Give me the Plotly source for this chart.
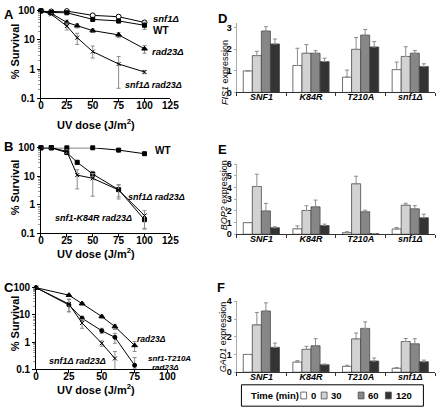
import plotly.graph_objects as go

W, H = 447, 418

# ---------------- data: survival panels ----------------
A_x_std = [0, 10, 25, 50, 75, 100]
A_snf1 = [100, 95, 98, 70, 63, 40]
A_snf1_err = [0, 0, 0, 5, 5, 6]
A_wt = [100, 88, 86, 51, 45, 32]
A_wt_err = [0, 3, 3, 8, 7, 9]
A_x_rad = [0, 10, 25, 35, 50, 75, 100]
A_rad23 = [100, 82, 40, 31, 21, 15, 5]
A_rad23_err = [0, 5, 8, 5, 3, 3, 1.5]
A_double = [100, 76, 30, 12, 4, 1.5, 0.8]
A_double_up = [0, 5, 8, 5, 2.2, 1.2, 0.1]
A_double_dn = [0, 5, 8, 5, 1.6, 1.28, 0.1]

B_x_wt = [0, 10, 25, 50, 75, 100]
B_wt = [100, 100, 100, 100, 83, 62]
B_x = [0, 10, 25, 35, 50, 75, 100]
B_double = [100, 100, 68, 31, 12, 3.4, 0.3]
B_double_err = [0, 0, 8, 5, 3, 1.5, 0.15]
B_k84r = [100, 100, 75, 11, 8.5, 3.3, 0.42]
B_k84r_up = [0, 0, 10, 6, 4, 1.8, 0.2]
B_k84r_dn = [0, 0, 10, 7.4, 6.5, 1.7, 0.28]

C_x_rad = [0, 25, 35, 50, 60, 75]
C_rad23 = [100, 53, 26, 8.7, 3.7, 0.75]
C_rad23_err = [0, 5, 3, 1, 0.8, 0.3]
C_t210a = [100, 23, 7.5, 2.6, 1.5, 0.14]
C_t210a_up = [0, 15, 1.5, 0.6, 0.6, 0.13]
C_t210a_dn = [0, 10, 1.5, 0.5, 0.6, 0.03]
C_x_dbl = [0, 25, 35, 50, 60]
C_double = [100, 25, 5, 0.9, 0.25]
C_double_up = [0, 12, 1.8, 0.2, 0.2]
C_double_dn = [0, 12, 1.8, 0.2, 0.16]

# ---------------- data: expression panels ----------------
strains = ["SNF1", "K84R", "T210A", "snf1Δ"]
times = ["0", "30", "60", "120"]
bar_colors = ["#ffffff", "#d2d2d2", "#878787", "#333333"]

FIS1 = {"0": [1.0, 1.25, 0.71, 1.06], "30": [1.71, 1.82, 2.0, 1.67],
        "60": [2.85, 1.82, 2.66, 1.82], "120": [2.25, 1.43, 2.11, 1.2]}
FIS1_err = {"0": [0, 0.8, 0.33, 0.35], "30": [0.2, 0.4, 0.55, 0.45],
            "60": [0.2, 0.12, 0.26, 0.13], "120": [0.23, 0.16, 0.25, 0.13]}
BOP2 = {"0": [1.0, 0.47, 0.14, 0.45], "30": [4.1, 2.04, 4.33, 2.49],
        "60": [2.0, 2.35, 1.93, 2.18], "120": [0.56, 0.75, 0.06, 1.42]}
BOP2_err = {"0": [0, 0.25, 0.08, 0.13], "30": [1.05, 0.4, 0.65, 0.17],
            "60": [0.65, 0.58, 0.14, 0.28], "120": [0.08, 0.12, 0.0, 0.3]}
GAD1 = {"0": [1.0, 0.57, 0.33, 0.22], "30": [2.67, 1.29, 1.88, 1.73],
        "60": [3.45, 1.49, 2.47, 1.6], "120": [1.4, 0.42, 0.63, 0.59]}
GAD1_err = {"0": [0, 0.08, 0.06, 0.04], "30": [0.7, 0.17, 0.33, 0.17],
            "60": [0.46, 0.4, 0.37, 0.29], "120": [0.24, 0.04, 0.17, 0.09]}


def px(x):
    return x / W


def py(y):
    return 1 - y / H


fig = go.Figure()
ERRC = "#8c8c8c"


def line_trace(x, y, up, dn, symbol, ax, open_=False, size=4):
    fig.add_trace(go.Scatter(
        x=x, y=y, mode="lines+markers", xaxis="x" + ax, yaxis="y" + ax,
        line=dict(color="black", width=1),
        marker=dict(symbol=symbol, size=size, color="white" if open_ else "black",
                    line=dict(color="black", width=1)),
        error_y=dict(type="data", array=up, arrayminus=dn, color=ERRC,
                     thickness=1, width=2),
        cliponaxis=False, showlegend=False))


# Panel A
line_trace(A_x_std, A_snf1, A_snf1_err, A_snf1_err, "circle", "", open_=True, size=5)
line_trace(A_x_std, A_wt, A_wt_err, A_wt_err, "square", "")
line_trace(A_x_rad, A_rad23, A_rad23_err, A_rad23_err, "triangle-up", "", size=5)
line_trace(A_x_rad, A_double, A_double_up, A_double_dn, "x-thin-open", "")
# Panel B
line_trace(B_x_wt, B_wt, None, None, "square", "2")
line_trace(B_x, B_double, B_double_err, B_double_err, "square", "2")
line_trace(B_x, B_k84r, B_k84r_up, B_k84r_dn, "x-thin-open", "2")
# Panel C
line_trace(C_x_rad, C_rad23, C_rad23_err, C_rad23_err, "triangle-up", "3", size=5)
line_trace(C_x_rad, C_t210a, C_t210a_up, C_t210a_dn, "circle", "3")
line_trace(C_x_dbl, C_double, C_double_up, C_double_dn, "x-thin-open", "3")

# Bar panels
for ax, data, err in [("4", FIS1, FIS1_err), ("5", BOP2, BOP2_err), ("6", GAD1, GAD1_err)]:
    for t, c in zip(times, bar_colors):
        fig.add_trace(go.Bar(
            x=strains, y=data[t], name=t, xaxis="x" + ax, yaxis="y" + ax,
            marker=dict(color=c, line=dict(color="#4a4a4a", width=0.8)),
            error_y=dict(type="data", array=err[t], arrayminus=[0] * 4,
                         color=ERRC, thickness=1, width=2),
            showlegend=False))

tickfont = dict(family="Liberation Sans", size=10, color="black")
barfont = dict(family="Liberation Sans", size=9, color="black")


def log_axes(n, xdom, ydom, xmax):
    xa = dict(domain=[px(xdom[0]), px(xdom[1])], range=[0, xmax], dtick=25,
              showline=True, linecolor="black", linewidth=1, ticks="outside",
              ticklen=3, tickcolor="black", showgrid=False, zeroline=False,
              ticklabelstandoff=-5,
              tickfont=tickfont, anchor="y" + n, tickprefix="<b>", ticksuffix="</b>")
    ya = dict(domain=[py(ydom[1]), py(ydom[0])], type="log", range=[-1, 2],
              dtick=1, showline=True, linecolor="black", linewidth=1,
              ticks="outside", ticklen=3, tickcolor="black", showgrid=False,
              tickfont=tickfont, anchor="x" + n, tickprefix="<b>", ticksuffix="</b>",
              minor=dict(ticks="outside", ticklen=2, tickcolor="#999999", showgrid=False))
    return xa, ya


def bar_axes(n, ydom, ymax):
    xa = dict(domain=[px(240), px(444)], showline=True, linecolor="#333333",
              linewidth=1, ticks="outside", tickson="boundaries", ticklen=3,
              tickcolor="#333333", showgrid=False, anchor="y" + n,
              ticklabelstandoff=-4,
              tickfont=barfont, tickprefix="<b><i>", ticksuffix="</i></b>")
    ya = dict(domain=[py(ydom[1]), py(ydom[0])], range=[0, ymax], dtick=1,
              showline=True, linecolor="#aaaaaa", linewidth=1, ticks="outside",
              ticklen=2, tickcolor="#aaaaaa", showgrid=False, zeroline=False,
              tickfont=barfont, anchor="x" + n, tickprefix="<b>", ticksuffix="</b>")
    return xa, ya


layout = {}
for n, key, xd, yd, xm in [("", "", (39, 172), (5, 95), 125),
                           ("2", "2", (39, 172), (146, 234), 125),
                           ("3", "3", (34, 169), (290, 374), 100)]:
    xa, ya = log_axes(n, xd, yd, xm)
    layout["xaxis" + key] = xa
    layout["yaxis" + key] = ya
for n, yd, ym in [("4", (18, 89), 3.2), ("5", (163, 235), 6), ("6", (304, 377), 4)]:
    xa, ya = bar_axes(n, yd, ym)
    layout["xaxis" + n] = xa
    layout["yaxis" + n] = ya

fig.update_layout(**layout)
fig.update_layout(width=W, height=H, margin=dict(l=0, r=0, t=0, b=0),
                  plot_bgcolor="white", paper_bgcolor="white",
                  barmode="group", bargap=0.27, bargroupgap=0,
                  font=dict(family="Liberation Sans", color="black"))

ann = []


def text(x, y, s, size=10, anchor="left", angle=0):
    ann.append(dict(x=px(x), y=py(y), xref="paper", yref="paper", text=s,
                    showarrow=False, xanchor=anchor, yanchor="middle",
                    textangle=angle,
                    font=dict(family="Liberation Sans", size=size, color="black")))


# panel letters
for lx, ly, L in [(6, 9, "A"), (6, 145, "B"), (6, 290, "C"),
                  (226, 13, "D"), (226, 148, "E"), (224, 290, "F")]:
    text(lx, ly, "<b>%s</b>" % L, size=13, anchor="center")

# survival axis titles
for yy in (47, 187, 327):
    text(12, yy, "<b>% Survival</b>", size=11, anchor="center", angle=-90)
for yy in (121, 254, 394):
    text(96, yy, "<b>UV dose (J/m<sup>2</sup>)</b>", size=11, anchor="center")

# series labels
text(152, 13, "<b><i>snf1Δ</i></b>", size=9.5)
text(152, 25, "<b>WT</b>", size=10)
text(151, 47, "<b><i>rad23Δ</i></b>", size=9.5)
text(123, 81, "<b><i>snf1Δ rad23Δ</i></b>", size=9)
text(154, 149, "<b>WT</b>", size=10)
text(126, 197, "<b><i>snf1Δ rad23Δ</i></b>", size=9)
text(51, 218, "<b><i>snf1-K84R rad23Δ</i></b>", size=9)
text(136, 343, "<b><i>rad23Δ</i></b>", size=8.5)
text(147, 363, "<b><i>snf1-T210A</i></b>", size=8)
text(183, 372, "<b><i>rad23Δ</i></b>", size=8, anchor="right")
text(45, 365, "<b><i>snf1Δ rad23Δ</i></b>", size=9)

# expression titles
text(228, 68, "<i>FIS1</i> expression", size=9, anchor="center", angle=-90)
text(228, 195, "<i>BOP2</i> expression", size=9, anchor="center", angle=-90)
text(226, 340, "<i>GAD1</i> expression", size=9, anchor="center", angle=-90)

# legend box
shapes = [dict(type="rect", xref="paper", yref="paper", x0=px(245), x1=px(432),
               y0=py(412), y1=py(390), line=dict(color="black", width=1),
               fillcolor="white")]
text(253, 401, "<b>Time (min)</b>", size=9.5)
sw_x = [306, 327, 365, 393]
for t, c, sx in zip(times, bar_colors, sw_x):
    shapes.append(dict(type="rect", xref="paper", yref="paper", x0=px(sx),
                       x1=px(sx + 6), y0=py(404.5), y1=py(397.5),
                       line=dict(color="#4a4a4a", width=0.8), fillcolor=c))
    text(sx + 8.5, 401, "<b>%s</b>" % t, size=9.5)

fig.update_layout(annotations=ann, shapes=shapes)
fig.write_html("out.html", config={"displayModeBar": False},
               post_script="document.body.style.margin='0';document.body.style.overflow='hidden';")
